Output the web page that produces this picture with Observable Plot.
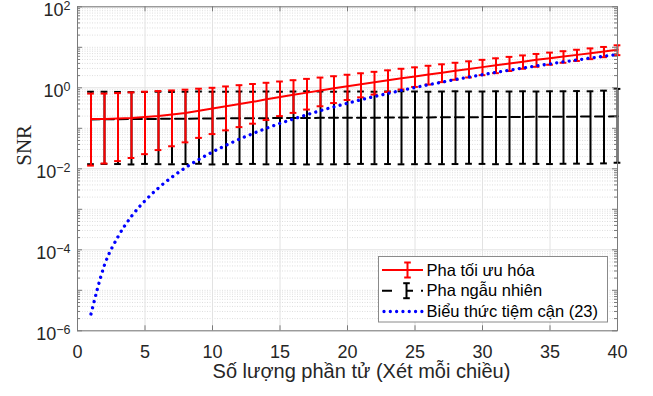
<!DOCTYPE html>
<html>
<head>
<meta charset="utf-8">
<script src="https://cdn.jsdelivr.net/npm/d3@7"></script>
<script src="https://cdn.jsdelivr.net/npm/@observablehq/plot@0.6"></script>
<style>
  html, body { margin: 0; padding: 0; background: #fff; }
  #chart { width: 653px; height: 396px; }
</style>
</head>
<body>
<div id="chart"></div>
<script>
// ---- Data ----
const N = [1,2,3,4,5,6,7,8,9,10,11,12,13,14,15,16,17,18,19,20,21,22,23,24,25,26,27,28,29,30,31,32,33,34,35,36,37,38,39,40];

// Optimized phase (red): mean, upper, lower
const optMean = [0.17,0.17,0.175,0.18,0.19,0.20,0.22,0.24,0.27,0.31,0.35,0.40,0.45,0.52,0.59,0.67,0.76,0.86,0.97,1.09,1.22,1.37,1.53,1.71,1.90,2.12,2.36,2.62,2.92,3.24,3.6,4.0,4.4,4.9,5.4,5.9,6.5,7.1,7.9,8.7];
const optHi = [0.72,0.72,0.74,0.77,0.80,0.83,0.86,0.90,0.95,1.0,1.08,1.16,1.24,1.33,1.43,1.54,1.66,1.79,1.93,2.1,2.28,2.48,2.7,2.95,3.2,3.5,3.8,4.15,4.5,4.9,5.35,5.8,6.3,6.85,7.4,8.0,8.7,9.4,10.2,11.2];
const optLo = [0.012,0.0135,0.0155,0.0185,0.023,0.029,0.036,0.045,0.058,0.072,0.089,0.107,0.13,0.16,0.2,0.24,0.29,0.35,0.42,0.5,0.58,0.68,0.79,0.91,1.05,1.2,1.38,1.58,1.8,2.05,2.3,2.6,2.95,3.3,3.7,4.15,4.6,5.1,5.7,6.4];

// Random phase (black): mean, upper, lower
const rndMean = [0.165,0.167,0.168,0.17,0.17,0.171,0.172,0.173,0.174,0.175,0.176,0.177,0.177,0.178,0.179,0.18,0.18,0.181,0.181,0.182,0.183,0.183,0.184,0.185,0.186,0.186,0.187,0.188,0.188,0.189,0.19,0.19,0.191,0.192,0.193,0.193,0.194,0.195,0.196,0.198];
const rndHi = [0.80,0.80,0.79,0.78,0.79,0.80,0.79,0.80,0.81,0.80,0.80,0.81,0.80,0.81,0.80,0.81,0.82,0.81,0.80,0.81,0.81,0.80,0.81,0.82,0.81,0.80,0.81,0.82,0.81,0.81,0.82,0.81,0.82,0.81,0.82,0.82,0.83,0.82,0.85,0.94];
const rndLo = [0.0130,0.0132,0.0131,0.0128,0.0132,0.0130,0.0129,0.0131,0.0133,0.0128,0.0130,0.0131,0.0132,0.0129,0.0130,0.0131,0.0128,0.0130,0.0129,0.0131,0.0132,0.0130,0.0131,0.0129,0.0130,0.0132,0.0130,0.0131,0.0133,0.0132,0.0130,0.0131,0.0133,0.0132,0.0131,0.0133,0.0134,0.0132,0.0136,0.0141];

// Asymptotic expression (23) (blue)
const asym = [2.6e-6,4.2e-5,2.1e-4,6.7e-4,1.63e-3,3.37e-3,6.24e-3,1.07e-2,1.71e-2,2.6e-2,3.81e-2,5.39e-2,7.43e-2,0.0999,0.132,0.170,0.217,0.273,0.339,0.416,0.506,0.609,0.728,0.863,1.016,1.19,1.38,1.60,1.84,2.11,2.40,2.73,3.08,3.47,3.90,4.37,4.87,5.42,6.01,6.66];

const seriesNames = ["Pha tối ưu hóa", "Pha ngẫu nhiên", "Biểu thức tiệm cận (23)"];
const xTicks = [0,5,10,15,20,25,30,35,40];
const yTicks = [1e-6,1e-4,1e-2,1,1e2];
const xLabel = "Số lượng phần tử (Xét mỗi chiều)";
const yLabel = "SNR";

// ---- Tables built from the arrays ----
const opt = N.map((n,i) => ({n, mean: optMean[i], hi: optHi[i], lo: optLo[i]}));
const rnd = N.map((n,i) => ({n, mean: rndMean[i], hi: rndHi[i], lo: rndLo[i]}));
const blue = N.map((n,i) => ({n, v: asym[i]}));

const decades = d3.range(-6, 2).map(e => Math.pow(10, e));
const yMinor = [];
decades.forEach(d => { for (let k = 2; k <= 9; k++) yMinor.push(d * k); });
const yAllDecades = d3.range(-6, 3).map(e => Math.pow(10, e));
const yOddDecades = yAllDecades.filter(v => !yTicks.some(t => Math.abs(Math.log10(t) - Math.log10(v)) < 1e-9));

const W = 653, H = 396;
const mL = 77, mR = 36, mT = 6.3, mB = 65.7;
const pw = W - mL - mR, ph = H - mT - mB;
const capHalf = 0.25;
const frameColor = "#7a7a7a";
const expText = d => { const e = Math.round(Math.log10(d)); return (e < 0 ? "−" : "") + Math.abs(e); };
const dotDash = "0.01,6.3";

const chart = Plot.plot({
  width: W, height: H,
  marginLeft: mL, marginRight: mR, marginTop: mT, marginBottom: mB,
  style: {fontFamily: "'Liberation Sans', Arial, Helvetica, sans-serif", background: "#fff", color: "#262626", overflow: "visible"},
  x: {domain: [0, 40]},
  y: {type: "log", domain: [1e-6, 1e2]},
  marks: [
    // grid
    Plot.ruleY(yMinor, {y: d => d, stroke: "#c8c8c8", strokeWidth: 0.6, strokeDasharray: "1,1.5"}),
    Plot.ruleY(yOddDecades, {y: d => d, stroke: "#c8c8c8", strokeWidth: 0.6, strokeDasharray: "1,1.5"}),
    Plot.ruleY(yTicks, {y: d => d, stroke: "#e2e2e2", strokeWidth: 1}),
    Plot.ruleX(xTicks.slice(1, -1), {x: d => d, stroke: "#e2e2e2", strokeWidth: 1}),

    // random phase (black)
    Plot.ruleX(rnd, {x: "n", y1: "lo", y2: "hi", stroke: "#000", strokeWidth: 2}),
    Plot.ruleY(rnd, {y: "hi", x1: d => d.n - capHalf, x2: d => d.n + capHalf, stroke: "#000", strokeWidth: 2}),
    Plot.ruleY(rnd, {y: "lo", x1: d => d.n - capHalf, x2: d => d.n + capHalf, stroke: "#000", strokeWidth: 2}),
    Plot.line(rnd, {x: "n", y: "mean", stroke: "#000", strokeWidth: 2, strokeDasharray: "9,5"}),

    // optimized phase (red)
    Plot.ruleX(opt, {x: "n", y1: "lo", y2: "hi", stroke: "#ff0000", strokeWidth: 2}),
    Plot.ruleY(opt, {y: "hi", x1: d => d.n - capHalf, x2: d => d.n + capHalf, stroke: "#ff0000", strokeWidth: 2}),
    Plot.ruleY(opt, {y: "lo", x1: d => d.n - capHalf, x2: d => d.n + capHalf, stroke: "#ff0000", strokeWidth: 2}),
    Plot.line(opt, {x: "n", y: "mean", stroke: "#ff0000", strokeWidth: 2}),

    // asymptotic (blue dotted)
    Plot.line(blue, {x: "n", y: "v", curve: "monotone-x", stroke: "#0000ff", strokeWidth: 3.3,
                     strokeDasharray: dotDash, strokeLinecap: "round"}),

    // frame and inward ticks
    Plot.frame({stroke: frameColor, strokeWidth: 1}),
    Plot.ruleX(xTicks, {x: d => d, insetTop: ph - 5, stroke: frameColor}),
    Plot.ruleX(xTicks, {x: d => d, insetBottom: ph - 5, stroke: frameColor}),
    Plot.ruleY(yAllDecades, {y: d => d, insetRight: pw - 5, stroke: frameColor}),
    Plot.ruleY(yAllDecades, {y: d => d, insetLeft: pw - 5, stroke: frameColor}),
    Plot.ruleY(yMinor, {y: d => d, insetRight: pw - 3, stroke: frameColor}),
    Plot.ruleY(yMinor, {y: d => d, insetLeft: pw - 3, stroke: frameColor}),

    // axes labels
    Plot.axisX({ticks: xTicks, tickSize: 0, tickPadding: 14, fontSize: 18, label: null}),
    Plot.axisY({ticks: yTicks, tickSize: 0, tickPadding: 7, fontSize: 18, label: null, dy: 3.5,
                tickFormat: d => "10^" + expText(d)}),
    Plot.text([xLabel], {frameAnchor: "bottom", text: d => d, dx: 14, dy: 47, fontSize: 20, fill: "#262626"}),
    Plot.text([yLabel], {frameAnchor: "left", text: d => d, dx: -53, dy: -3, rotate: -90, fontSize: 21,
                         fontFamily: "'Liberation Serif', 'Times New Roman', serif", fill: "#262626"})
  ]
});

document.getElementById("chart").appendChild(chart);

// superscript exponents on y tick labels
d3.select(chart).selectAll('g[aria-label="y-axis tick label"] text').each(function() {
  const t = d3.select(this);
  const parts = t.text().split("^");
  t.text(parts[0]);
  t.append("tspan").attr("dy", -6.5).attr("font-size", 12.5).text(parts[1]);
});

// legend inside the axes
const svg = d3.select(chart);
const lg = svg.append("g").attr("class", "legend").attr("text-anchor", "start");
lg.append("rect").attr("x", 378.5).attr("y", 256.5).attr("width", 229).attr("height", 65.5)
  .attr("fill", "#fff").attr("stroke", "#8a8a8a").attr("stroke-width", 1);
const rows = [270, 290.7, 311.5];
const x0 = 382, x1 = 423, xm = 407.5;
// red entry
lg.append("line").attr("x1", x0).attr("x2", x1).attr("y1", rows[0]).attr("y2", rows[0]).attr("stroke", "#ff0000").attr("stroke-width", 2);
lg.append("line").attr("x1", xm).attr("x2", xm).attr("y1", rows[0] - 7.5).attr("y2", rows[0] + 7.5).attr("stroke", "#ff0000").attr("stroke-width", 2);
[-7.5, 7.5].forEach(o => lg.append("line").attr("x1", xm - 3.3).attr("x2", xm + 3.3).attr("y1", rows[0] + o).attr("y2", rows[0] + o).attr("stroke", "#ff0000").attr("stroke-width", 2));
// black entry
lg.append("line").attr("x1", x0).attr("x2", x1).attr("y1", rows[1]).attr("y2", rows[1]).attr("stroke", "#000").attr("stroke-width", 2).attr("stroke-dasharray", "10,14,7,8,2,20");
lg.append("line").attr("x1", xm - 1).attr("x2", xm - 1).attr("y1", rows[1] - 7.5).attr("y2", rows[1] + 7.5).attr("stroke", "#000").attr("stroke-width", 2);
[-7.5, 7.5].forEach(o => lg.append("line").attr("x1", xm - 4.3).attr("x2", xm + 2.3).attr("y1", rows[1] + o).attr("y2", rows[1] + o).attr("stroke", "#000").attr("stroke-width", 2));
// blue entry
lg.append("line").attr("x1", x0 + 2).attr("x2", x1).attr("y1", rows[2]).attr("y2", rows[2]).attr("stroke", "#0000ff").attr("stroke-width", 3.3)
  .attr("stroke-dasharray", dotDash).attr("stroke-linecap", "round");
rows.forEach((y, i) => lg.append("text").attr("x", 426.5).attr("y", y).attr("dy", "0.35em")
  .attr("text-anchor", "start").attr("font-size", 16.5).attr("fill", "#000")
  .attr("font-family", "'Liberation Sans', Arial, sans-serif").text(seriesNames[i]));
</script>
</body>
</html>
